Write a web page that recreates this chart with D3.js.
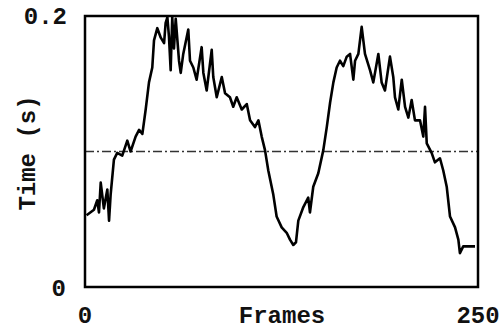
<!DOCTYPE html>
<html><head><meta charset="utf-8">
<script src="https://cdn.jsdelivr.net/npm/d3@7"></script>
<style>html,body{margin:0;padding:0;background:#fff;}svg{display:block;}</style>
</head><body>
<svg id="c" width="501" height="331"></svg>
<script>
const frames = [1,5.7,7.8,8.9,10,12,14.2,15.3,16.3,18.4,20.5,23.7,26.9,29,32.2,34.4,36.5,38.6,40.7,42.8,43.9,46,48.2,50.3,51.3,52.4,53.4,54.5,55.5,56.6,57.7,59.8,60.9,
62.5,65.7,66.8,68.9,71,74.2,75.3,77.4,80.6,81.6,83.8,87,89.1,92.2,94.3,96.5,99.7,102.9,105,108.1,110.3,112.4,114.5,116.6,119.8,
121.9,125.1,128.3,130.4,132.5,134.2,135.7,138.9,142,143.1,145.2,148.4,151.6,153.8,155.9,158,160.1,162.2,164.3,166.5,168.6,170.7,171.8,173.9,176,178.1,
181.3,183.4,186.6,188.7,190.8,194,196.1,197.2,199.3,201.5,203.6,205.7,207.8,209.9,213.1,215.2,216.3,217.4,220.5,222.6,225.8,227.9,230.1,232.2,235.4,237.5,238.5,240.6,248.1];
const times = [0.053,0.057,0.064,0.055,0.077,0.058,0.072,0.049,0.068,0.094,0.099,0.097,0.108,0.100,0.111,0.116,0.113,0.131,0.151,0.162,0.182,0.191,0.184,0.180,0.195,0.199,0.185,0.160,0.199,0.176,0.198,0.167,0.158,
0.172,0.190,0.167,0.162,0.153,0.177,0.158,0.145,0.175,0.155,0.140,0.155,0.143,0.140,0.133,0.140,0.131,0.135,0.123,0.118,0.123,0.111,0.101,0.086,0.068,
0.052,0.044,0.040,0.035,0.031,0.033,0.049,0.059,0.066,0.055,0.074,0.084,0.101,0.118,0.136,0.151,0.162,0.167,0.163,0.170,0.172,0.153,0.167,0.172,0.192,0.172,
0.160,0.151,0.172,0.151,0.145,0.170,0.155,0.140,0.131,0.153,0.133,0.125,0.138,0.123,0.123,0.111,0.133,0.106,0.099,0.092,0.095,0.086,0.074,0.052,0.044,0.035,0.025,0.030,0.030];
const refLevel = 0.1;
const xDomain = [0, 250];
const yDomain = [0, 0.2];
const xTickLabels = ["0", "250"];
const yTickLabels = ["0", "0.2"];
const xTitle = "Frames";
const yTitle = "Time (s)";

const svg = d3.select("#c");
const L = 85, R = 478, T = 16, B = 287;
const x = d3.scaleLinear().domain(xDomain).range([L, R]);
const y = d3.scaleLinear().domain(yDomain).range([B, T]);
const font = "'Liberation Mono', 'DejaVu Sans Mono', monospace";

svg.append("clipPath").attr("id","clip").append("rect")
  .attr("x", L).attr("y", T).attr("width", R-L).attr("height", B-T);

svg.append("line")
  .attr("x1", x(xDomain[0])).attr("x2", x(xDomain[1]))
  .attr("y1", y(refLevel)).attr("y2", y(refLevel))
  .attr("stroke", "#333").attr("stroke-width", 1.4)
  .attr("stroke-dasharray", "9,3,2,3");

const data = frames.map((f,i)=>[f, times[i]]);
svg.append("path").datum(data)
  .attr("clip-path","url(#clip)")
  .attr("fill","none").attr("stroke","#000").attr("stroke-width",2.6)
  .attr("stroke-linejoin","round")
  .attr("d", d3.line().x(d=>x(d[0])).y(d=>y(d[1])));

svg.append("rect").attr("x", L).attr("y", T).attr("width", R-L).attr("height", B-T)
  .attr("fill","none").attr("stroke","#000").attr("stroke-width",2.5);

const g = svg.append("g").attr("font-family", font).attr("font-weight","bold")
  .attr("font-size", 24).attr("fill", "#111");

g.append("text").attr("x", 67).attr("y", y(yDomain[1]) + 8).attr("text-anchor","end").text(yTickLabels[1]);
g.append("text").attr("x", 66).attr("y", y(yDomain[0]) + 9).attr("text-anchor","end").text(yTickLabels[0]);
g.append("text").attr("x", x(xDomain[0])).attr("y", 323).attr("text-anchor","middle").text(xTickLabels[0]);
g.append("text").attr("x", x(xDomain[1])).attr("y", 323).attr("text-anchor","middle").text(xTickLabels[1]);
g.append("text").attr("x", 282).attr("y", 323).attr("text-anchor","middle").text(xTitle);
g.append("text").attr("transform", "translate(35,153) rotate(-90)").attr("text-anchor","middle").text(yTitle);
</script>
</body></html>
